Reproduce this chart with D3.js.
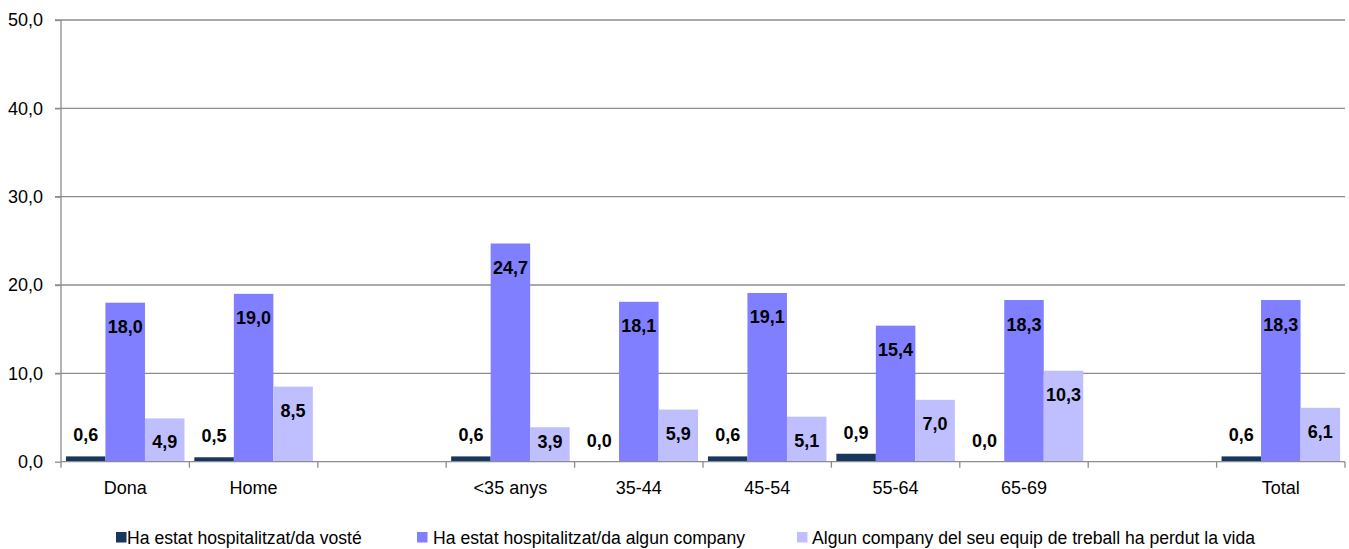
<!DOCTYPE html>
<html><head><meta charset="utf-8">
<script src="https://cdn.jsdelivr.net/npm/d3@7"></script>
<style>
body{margin:0;background:#fff;}
text{font-family:"Liberation Sans",Arial,sans-serif;}
</style></head>
<body><svg id="c" width="1349" height="549"></svg>
<script>
const categories = ["Dona","Home","","<35 anys","35-44","45-54","55-64","65-69","","Total"];
const seriesNames = ["Ha estat hospitalitzat/da vosté","Ha estat hospitalitzat/da algun company","Algun company del seu equip de treball ha perdut la vida"];
const valuesSelf = [0.6,0.5,null,0.6,0.0,0.6,0.9,0.0,null,0.6];
const valuesColleague = [18.0,19.0,null,24.7,18.1,19.1,15.4,18.3,null,18.3];
const valuesDeath = [4.9,8.5,null,3.9,5.9,5.1,7.0,10.3,null,6.1];
const yTicks = [0,10,20,30,40,50];
const colors = ["#17375E","#7F7FFF","#BFBFFF"];

const series = [valuesSelf, valuesColleague, valuesDeath];
const svg = d3.select("#c");
const mLeft = 61, mRight = 1345, mTop = 20, mBottom = 461.7;
const idx = categories.map((d,i)=>i);
const x = d3.scaleBand().domain(idx).range([mLeft,mRight]).paddingInner(0).paddingOuter(0);
const xs = d3.scaleBand().domain([0,1,2]).range([0,x.bandwidth()]).paddingInner(0).paddingOuter(0.125);
const y = d3.scaleLinear().domain([0,50]).range([mBottom,mTop]);
const fmt = v => d3.format(".1f")(v).replace(".",",");

// gridlines
svg.append("g").selectAll("line").data(yTicks.filter(t=>t>0)).join("line")
  .attr("x1",mLeft-6).attr("x2",mRight).attr("y1",d=>y(d)).attr("y2",d=>y(d))
  .attr("stroke","#8c8c8c").attr("stroke-width",1.3);

// y axis
const ya = d3.axisLeft(y).tickValues(yTicks).tickSize(6).tickPadding(12).tickFormat(fmt);
const gy = svg.append("g").attr("transform",`translate(${mLeft},0)`).call(ya);
gy.select(".domain").remove();
gy.selectAll(".tick line").attr("stroke","#8c8c8c").attr("stroke-width",1.3);
gy.selectAll(".tick text").attr("font-size",18).attr("fill","#000").attr("font-family","Liberation Sans, Arial, sans-serif");
svg.append("line").attr("x1",mLeft).attr("x2",mLeft).attr("y1",mTop).attr("y2",mBottom+6)
  .attr("stroke","#8c8c8c").attr("stroke-width",1.3);

// bars
series.forEach((vals,s)=>{
  const g = svg.append("g");
  g.selectAll("rect").data(vals.map((v,i)=>({v,i})).filter(d=>d.v!==null)).join("rect")
    .attr("x",d=>x(d.i)+xs(s)).attr("width",xs.bandwidth())
    .attr("y",d=>y(d.v)).attr("height",d=>mBottom-y(d.v))
    .attr("fill",colors[s]);
});

// x axis
svg.append("line").attr("x1",mLeft).attr("x2",mRight).attr("y1",mBottom).attr("y2",mBottom)
  .attr("stroke","#8c8c8c").attr("stroke-width",1.3);
svg.append("g").selectAll("line").data(idx.slice(1).concat([idx.length])).join("line")
  .attr("x1",d=>d<idx.length? x(d): mRight).attr("x2",d=>d<idx.length? x(d): mRight)
  .attr("y1",mBottom).attr("y2",mBottom+6).attr("stroke","#8c8c8c").attr("stroke-width",1.3);
svg.append("g").selectAll("text").data(idx).join("text")
  .attr("x",d=>x(d)+x.bandwidth()/2).attr("y",494).attr("text-anchor","middle")
  .attr("font-size",18).text(d=>categories[d]);

// data labels
series.forEach((vals,s)=>{
  svg.append("g").selectAll("text").data(vals.map((v,i)=>({v,i})).filter(d=>d.v!==null)).join("text")
    .attr("x",d=>x(d.i)+xs(s)+xs.bandwidth()/2)
    .attr("y",d=>{
      const c = s===0 ? y(d.v)-21.5 : Math.min(y(d.v)+24, 441.5);
      return c+6.5;
    })
    .attr("text-anchor","middle").attr("font-size",18).attr("font-weight","bold")
    .style("font-family","'Liberation Sans Narrow','Arial Narrow',sans-serif")
    .attr("fill","#000").text(d=>fmt(d.v));
});

// legend
const legMarkX = [116,417,797];
const legTextX = [127,433,812];
const lg = svg.append("g").selectAll("g").data(seriesNames).join("g");
lg.append("rect").attr("x",(d,i)=>legMarkX[i]).attr("y",532).attr("width",10.5).attr("height",10.5).attr("fill",(d,i)=>colors[i]);
lg.append("text").attr("x",(d,i)=>legTextX[i]).attr("y",543.5).attr("font-size",17.6).text(d=>d);
</script></body></html>
